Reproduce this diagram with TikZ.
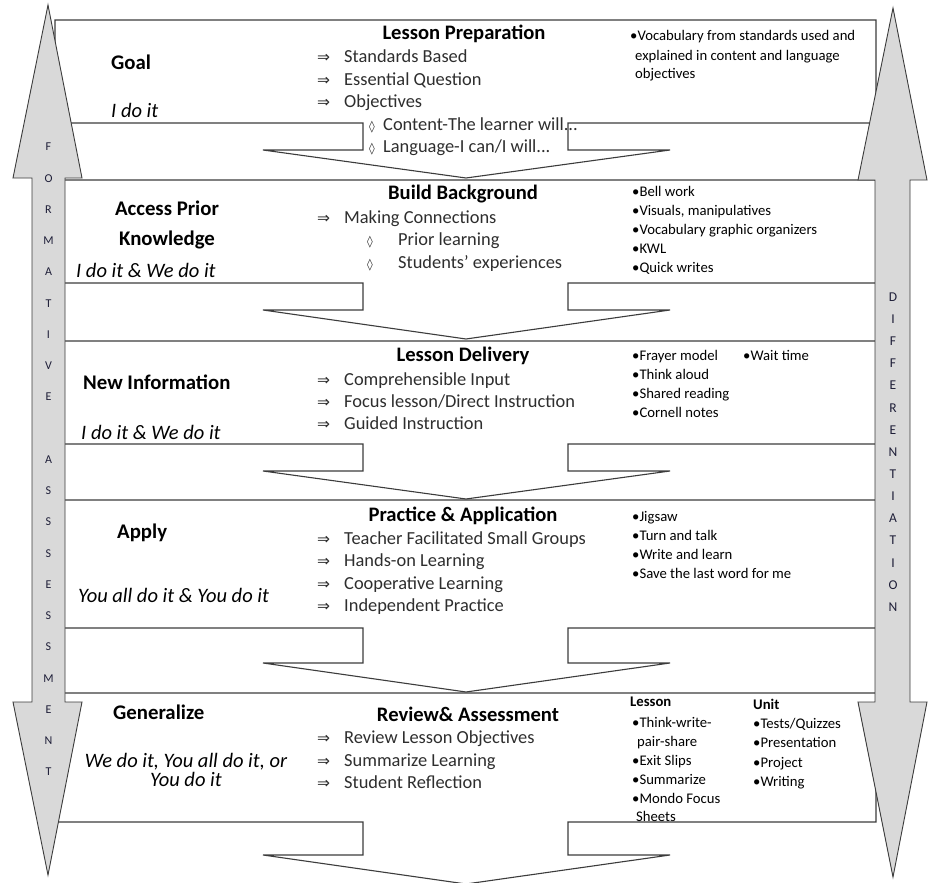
\documentclass[tikz,border=0pt]{standalone}
\usepackage{fontspec}
\setmainfont{Carlito}
\newfontfamily\symf{DejaVu Sans}
\definecolor{linec}{HTML}{3C3C3C}
\definecolor{arrowgray}{HTML}{D9D9D9}
\definecolor{bodyc}{HTML}{2E2E2E}
\definecolor{letc}{HTML}{1E1E38}
\tikzset{
  stagebox/.style={draw=linec, fill=white, line width=1.1pt, line join=miter},
  sidearrow/.style={draw=linec, fill=arrowgray, line width=0.9pt},
  hd/.style={font=\fontsize{20.6}{24}\selectfont\bfseries, anchor=base, inner sep=0pt, text=black},
  lbl/.style={font=\fontsize{20.8}{24}\selectfont\bfseries, anchor=base west, inner sep=0pt, text=black},
  lblc/.style={lbl, anchor=base},
  itl/.style={font=\fontsize{20.5}{24}\selectfont\itshape, anchor=base west, inner sep=0pt, text=black},
  itlc/.style={font=\fontsize{20.5}{18.5}\selectfont\itshape, anchor=base, inner sep=0pt, text=black, align=center},
  body/.style={font=\fontsize{18.4}{22}\selectfont, anchor=base west, inner sep=0pt, text=bodyc},
  arw/.style={font=\symf\fontsize{15.5}{18}\selectfont, anchor=base west, inner sep=0pt, text=bodyc},
  dmd/.style={font=\symf\fontsize{11.5}{14}\selectfont, anchor=base west, inner sep=0pt, text=bodyc},
  bul/.style={font=\fontsize{14.7}{18}\selectfont, anchor=base west, inner sep=0pt, text=black},
  bulb/.style={bul, font=\fontsize{14.7}{18}\selectfont\bfseries},
  lletter/.style={font=\fontsize{12}{14}\selectfont, anchor=center, inner sep=0pt, text=letc},
  rletter/.style={font=\fontsize{13.5}{16}\selectfont, anchor=center, inner sep=0pt, text=letc},
}
% stage shape: top, rect bottom, shaft bottom, tip
\newcommand\stageshape[4]{%
  \draw[stagebox] (55,#1) -- (876,#1) -- (876,#2) -- (568,#2) -- (568,#3) -- (670,#3)
    -- (466,#4) -- (263,#3) -- (363,#3) -- (363,#2) -- (55,#2) -- cycle;}
% arrow row: name, baseline, text
\newcommand\arow[3]{%
  \node[arw] (#1a) at (317,#2) {⇒};
  \node[body] (#1) at (344,#2) {#3};}
\begin{document}
\begin{tikzpicture}[x=1pt,y=-1pt]
\useasboundingbox (0,0) rectangle (929,883);
\fill[white] (0,0) rectangle (929,883);

% ---------- stages ----------
\stageshape{20}{123}{150}{178}
\stageshape{180}{283}{310}{339}
\stageshape{341}{444}{471}{499}
\stageshape{500}{628}{663}{692}
\stageshape{693}{822}{855}{884}

% ---------- Stage 1 ----------
\node[hd] (h1) at (464,40) {Lesson Preparation};
\arow{s1a}{63}{Standards Based}
\arow{s1b}{85}{Essential Question}
\arow{s1c}{107}{Objectives}
\node[dmd] (s1dd) at (369,130) {◊};
\node[body] (s1d) at (383,130) {Content-The learner will...};
\node[dmd] (s1ed) at (369,152) {◊};
\node[body] (s1e) at (383,152) {Language-I can/I will...};
\node[lbl] (g1) at (111,70) {Goal};
\node[itl] (i1) at (111,117) {I do it};
\node[bul] (r1a) at (630,41) {•Vocabulary from standards used and};
\node[bul] (r1b) at (635,60) {explained in content and language};
\node[bul] (r1c) at (635,78) {objectives};

% ---------- Stage 2 ----------
\node[hd] (h2) at (463,199) {Build Background};
\arow{s2a}{223}{Making Connections}
\node[dmd] (s2bd) at (367,245) {◊};
\node[body] (s2b) at (398,245) {Prior learning};
\node[dmd] (s2cd) at (367,268) {◊};
\node[body] (s2c) at (398,268) {Students’ experiences};
\node[lblc] (g2a) at (167,215) {Access Prior};
\node[lblc] (g2b) at (167,245) {Knowledge};
\node[itl] (i2) at (76,277) {I do it \& We do it};
\node[bul] (r2a) at (632,196) {•Bell work};
\node[bul] (r2b) at (632,215) {•Visuals, manipulatives};
\node[bul] (r2c) at (632,234) {•Vocabulary graphic organizers};
\node[bul] (r2d) at (632,253) {•KWL};
\node[bul] (r2e) at (632,272) {•Quick writes};

% ---------- Stage 3 ----------
\node[hd] (h3) at (463,361) {Lesson Delivery};
\arow{s3a}{385}{Comprehensible Input}
\arow{s3b}{407}{Focus lesson/Direct Instruction}
\arow{s3c}{429}{Guided Instruction}
\node[lbl] (g3) at (83,389) {New Information};
\node[itl] (i3) at (81,439) {I do it \& We do it};
\node[bul] (r3a) at (632,360) {•Frayer model};
\node[bul] (r3w) at (743,360) {•Wait time};
\node[bul] (r3b) at (632,379) {•Think aloud};
\node[bul] (r3c) at (632,398) {•Shared reading};
\node[bul] (r3d) at (632,417) {•Cornell notes};

% ---------- Stage 4 ----------
\node[hd] (h4) at (463,521) {Practice \& Application};
\arow{s4a}{544}{Teacher Facilitated Small Groups}
\arow{s4b}{566}{Hands-on Learning}
\arow{s4c}{589}{Cooperative Learning}
\arow{s4d}{611}{Independent Practice}
\node[lbl] (g4) at (117,538) {Apply};
\node[itl] (i4) at (78,602) {You all do it \& You do it};
\node[bul] (r4a) at (632,521) {•Jigsaw};
\node[bul] (r4b) at (632,540) {•Turn and talk};
\node[bul] (r4c) at (632,559) {•Write and learn};
\node[bul] (r4d) at (632,578) {•Save the last word for me};

% ---------- Stage 5 ----------
\node[hd] (h5) at (468,721) {Review\& Assessment};
\arow{s5a}{743}{Review Lesson Objectives}
\arow{s5b}{766}{Summarize Learning}
\arow{s5c}{788}{Student Reflection}
\node[lbl] (g5) at (113,719) {Generalize};
\node[itlc] (i5) at (186,786) {We do it, You all do it, or\\You do it};
\node[bulb] (l5) at (630,706) {Lesson};
\node[bul] (l5a) at (632,727) {•Think-write-};
\node[bul] (l5b) at (637,746) {pair-share};
\node[bul] (l5c) at (632,765) {•Exit Slips};
\node[bul] (l5d) at (632,784) {•Summarize};
\node[bul] (l5e) at (632,803) {•Mondo Focus};
\node[bul] (l5f) at (636,821) {Sheets};
\node[bulb] (u5) at (753,709) {Unit};
\node[bul] (u5a) at (753,728) {•Tests/Quizzes};
\node[bul] (u5b) at (753,747) {•Presentation};
\node[bul] (u5c) at (753,767) {•Project};
\node[bul] (u5d) at (753,786) {•Writing};

% ---------- side arrows ----------
\draw[sidearrow] (48,5) -- (82,178) -- (65,178) -- (65,702) -- (82,702) -- (48,875)
  -- (13,702) -- (32,702) -- (32,178) -- (13,178) -- cycle;
\draw[sidearrow] (893,8) -- (927,180) -- (910,180) -- (910,702) -- (927,702) -- (893,877)
  -- (858,702) -- (875,702) -- (875,180) -- (858,180) -- cycle;

\foreach \l [count=\i from 0] in {F,O,R,M,A,T,I,V,E}
  \node[lletter] (fa\i) at (48.5,{147+31.25*\i}) {\l};
\foreach \l [count=\i from 10] in {A,S,S,S,E,S,S,M,E,N,T}
  \node[lletter] (fa\i) at (48.5,{147+31.25*\i}) {\l};
\foreach \l [count=\i from 0] in {D,I,F,F,E,R,E,N,T,I,A,T,I,O,N}
  \node[rletter] (di\i) at (893,{297+22.14*\i}) {\l};
\end{tikzpicture}
\end{document}
